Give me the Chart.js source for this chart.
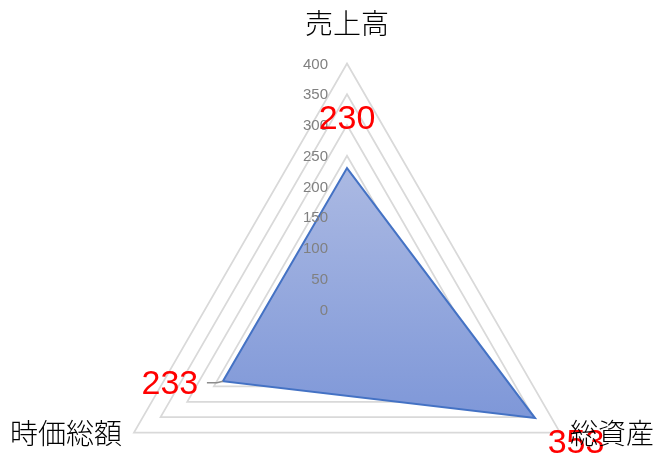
<!DOCTYPE html>
<html>
<head>
<meta charset="utf-8">
<script src="https://cdn.jsdelivr.net/npm/chart.js@4/dist/chart.umd.min.js"></script>
<style>
html,body{margin:0;padding:0;background:#fff;}
#wrap{width:670px;height:463px;position:relative;}
</style>
</head>
<body>
<div id="wrap"><canvas id="c"></canvas></div>
<script>
const categories = ['売上高', '総資産', '時価総額'];
const values = [230, 353, 233];
const scaleMin = 0;
const scaleMax = 400;
const scaleStep = 50;

const layoutPlugin = {
  id: 'fixedRadar',
  afterLayout(chart, args, opts) {
    const s = chart.scales.r;
    s.xCenter = opts.cx;
    s.yCenter = opts.cy;
    s.drawingArea = opts.radius;
  },
  afterDraw(chart, args, opts) {
    const s = chart.scales.r;
    const c = chart.ctx;
    c.save();
    // tick labels
    c.font = '15px "Liberation Sans", Arial, sans-serif';
    c.fillStyle = '#808080';
    c.textAlign = 'right';
    c.textBaseline = 'middle';
    s.ticks.forEach(t => {
      const y = s.yCenter - s.getDistanceFromCenterForValue(t.value) + 1;
      c.fillText(String(t.value), s.xCenter - 19, y);
    });
    // leader line for left label
    const meta = chart.getDatasetMeta(0);
    const p2 = meta.data[2];
    c.strokeStyle = '#8c8c8c';
    c.lineWidth = 1.5;
    c.beginPath();
    c.moveTo(p2.x - 16, p2.y + 1.5);
    c.lineTo(p2.x - 6, p2.y + 1.5);
    c.lineTo(p2.x, p2.y);
    c.stroke();
    // data labels
    c.font = '34px "Liberation Sans", Arial, sans-serif';
    c.fillStyle = '#ff0000';
    c.textAlign = 'center';
    c.textBaseline = 'middle';
    meta.data.forEach((pt, i) => {
      const o = opts.dataOffsets[i];
      c.fillText(String(values[i]), pt.x + o[0], pt.y + o[1]);
    });
    // point labels
    c.font = '300 28px "Noto Sans CJK JP", sans-serif';
    c.fillStyle = '#000';
    categories.forEach((lab, i) => {
      const p = s.getPointPosition(i, s.drawingArea);
      const o = opts.labelOffsets[i];
      c.textAlign = o[2];
      c.fillText(lab, p.x + o[0], p.y + o[1]);
    });
    c.restore();
  }
};

new Chart(document.getElementById('c'), {
  type: 'radar',
  data: {
    labels: categories,
    datasets: [{
      data: values,
      borderColor: '#4472c4',
      borderWidth: 2,
      pointRadius: 0,
      fill: true,
      backgroundColor: (ctx) => {
        const chart = ctx.chart;
        const s = chart.scales.r;
        if (!chart.chartArea || !s) return 'rgba(143,165,220,1)';
        const g = chart.ctx.createLinearGradient(0, s.yCenter - s.drawingArea * 0.6, 0, s.yCenter + s.drawingArea * 0.45);
        g.addColorStop(0, 'rgb(172,186,227)');
        g.addColorStop(1, 'rgb(126,151,216)');
        return g;
      }
    }]
  },
  options: {
    responsive: true,
    maintainAspectRatio: false,
    animation: false,
    plugins: {
      legend: { display: false },
      tooltip: { enabled: false },
      fixedRadar: {
        cx: 347, cy: 309.5, radius: 246,
        dataOffsets: [[0, -48], [41, 26], [-53, 3]],
        labelOffsets: [[0, -40, 'center'], [10, 1, 'left'], [-12, 1, 'right']]
      }
    },
    scales: {
      r: {
        min: scaleMin,
        max: scaleMax,
        ticks: { display: false, stepSize: scaleStep },
        grid: { color: '#d9d9d9', lineWidth: 1.75 },
        angleLines: { display: false },
        pointLabels: { display: false }
      }
    }
  },
  plugins: [layoutPlugin]
});
</script>
</body>
</html>
